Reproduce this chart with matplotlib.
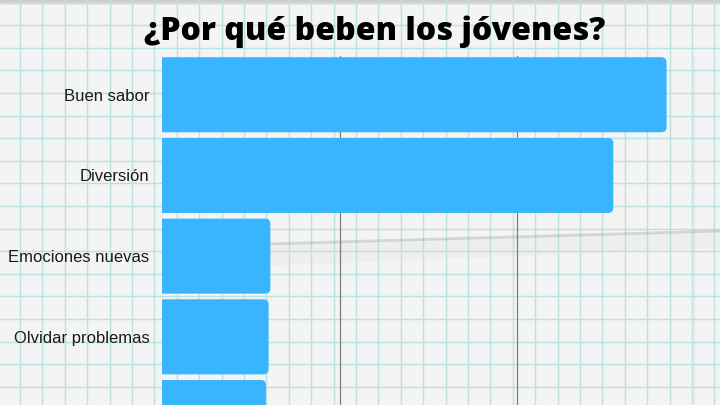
import matplotlib
matplotlib.use("Agg")
import matplotlib.pyplot as plt
from matplotlib.patches import FancyBboxPatch, Polygon
import numpy as np

title = "¿Por qué beben los jóvenes?"
categories = ["Buen sabor", "Diversión", "Emociones nuevas", "Olvidar problemas", "Presión social"]
values = [28.4, 25.4, 6.1, 6.0, 5.85]

bar_color = "#38B5FE"
paper = "#F3F4F3"
paper_line = "#B8E3E1"

fig = plt.figure(figsize=(7.2, 4.05), dpi=100)
fig.patch.set_facecolor(paper)

# graph paper background
bg = fig.add_axes([0, 0, 1, 1], zorder=0)
bg.set_xlim(0, 720)
bg.set_ylim(405, 0)
bg.axis("off")
for x in np.arange(20, 720, 22.4):
    bg.axvline(x, color=paper_line, lw=1.0)
for y in np.arange(2.5, 405, 22.6):
    bg.axhline(y, color=paper_line, lw=1.0)
# fold in the paper
bg.add_patch(Polygon([(265, 244), (720, 231), (720, 248), (265, 266)],
                     closed=True, color="#9a9a9a", alpha=0.06, lw=0))
bg.plot([265, 720], [244, 231], color="#a0a0a0", lw=2.0, alpha=0.35)
bg.axhspan(0, 2.5, color="#a8a8a8", alpha=0.4)

ax = fig.add_axes([162 / 720, 0, (695 - 162) / 720, 349 / 405], zorder=1)
ax.patch.set_alpha(0)
ypos = np.arange(len(categories))
bars = ax.barh(ypos, values, height=0.93, color=bar_color)

ax.set_xticks([10, 20, 30])
ax.set_xticklabels([])
ax.set_yticks(ypos)
ax.set_yticklabels(categories, fontsize=12, color="#1a1a1a", family="Liberation Sans")
ax.set_xlim(0, 30)
ax.set_ylim(3.845, -0.48)

# swap plain bars for rounded ones
r = 0.3
for b in bars:
    x0, y0 = b.get_x(), b.get_y()
    w, h = b.get_width(), b.get_height()
    b.remove()
    ax.add_patch(FancyBboxPatch((x0 - 1, y0), w + 1, h,
                                boxstyle=f"round,pad=0,rounding_size={r}",
                                mutation_aspect=0.21, fc=bar_color, ec="none",
                                zorder=2))

ax.grid(axis="x", color="#7d7d7d", lw=0.9, zorder=1)
ax.set_axisbelow(True)
ax.tick_params(axis="x", length=0)
ax.tick_params(axis="y", length=0, pad=9)
for s in ax.spines.values():
    s.set_visible(False)

fig.text(0.521, 0.922, title, ha="center", va="center", fontsize=23,
         fontweight="heavy", family="Open Sans", color="black")

fig.savefig("out.png", dpi=100, facecolor=fig.get_facecolor())
